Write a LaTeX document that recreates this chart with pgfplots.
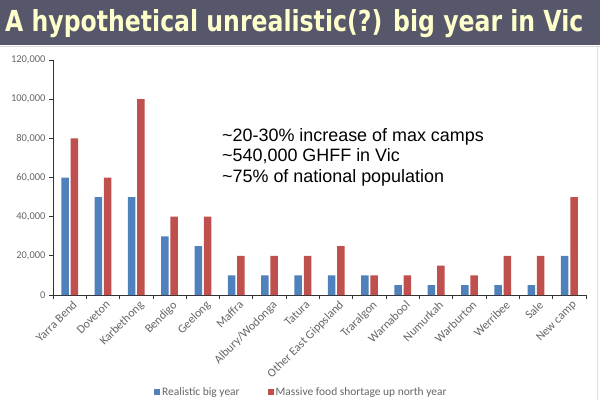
\documentclass[border=0pt]{standalone}
\usepackage{pgfplots}
\pgfplotsset{compat=1.18}
\usepackage{fontspec}
\setmainfont{Carlito}
\newfontfamily\titlefont{DejaVu Sans}
\newfontfamily\arialfont{Liberation Sans}
\definecolor{hdr}{HTML}{56576A}
\definecolor{ttl}{HTML}{FFFFCC}
\definecolor{cblue}{HTML}{4F81BD}
\definecolor{cred}{HTML}{C0504D}
\definecolor{lbl}{HTML}{666666}
\begin{document}
\begin{tikzpicture}[x=1bp,y=1bp]
\fill[white] (0,0) rectangle (600,400);
\fill[hdr] (0,355) rectangle (600,400);
\draw[gray!30,line width=1bp] (0,353.5) -- (600,353.5);
\draw[gray!25,line width=1bp] (597.5,0) -- (597.5,353);
\node[anchor=base west,text=ttl,inner sep=0pt] at (5,368.5) {\resizebox{578bp}{22bp}{\titlefont\bfseries A hypothetical unrealistic(?) big year in Vic}};
\begin{axis}[
  at={(53bp,105bp)}, anchor=south west,
  scale only axis, width=533bp, height=235bp,
  ybar=1.8bp, bar width=7.5bp,
  xmin=-0.5, xmax=15.5, ymin=0, ymax=120000,
  axis x line*=bottom, axis y line*=left,
  axis line style={-, black!80, line width=0.8pt},
  xtick={0,...,15},
  xticklabels={Yarra Bend,Doveton,Karbethong,Bendigo,Geelong,Maffra,Albury/Wodonga,Tatura,Other East Gippsland,Traralgon,Warnabool,Numurkah,Warburton,Werribee,Sale,New camp},
  x tick label style={rotate=45, anchor=north east, font=\fontsize{12}{13}\selectfont, text=lbl, inner sep=1pt, xshift=2bp, yshift=-1bp},
  major x tick style={draw=none},
  minor xtick={-0.5,0.5,...,15.5},
  minor x tick style={black!80, line width=0.8pt},
  minor tick length=4bp,
  ytick={0,20000,...,120000},
  major tick length=4bp,
  tick align=outside,
  y tick style={black!80, line width=0.8pt},
  y tick label style={font=\fontsize{10.5}{12}\selectfont, text=lbl},
  /pgf/number format/assume math mode=true,
  scaled y ticks=false,
  yticklabel style={/pgf/number format/.cd, fixed, 1000 sep={,}},
  legend style={at={(0.466,-0.413)}, anchor=center, draw=none, legend columns=2,
    font=\fontsize{11.5}{13}\selectfont, text=lbl,
    /tikz/every even column/.append style={column sep=26bp}},
  legend image code/.code={\fill[#1] (0bp,-3bp) rectangle (6bp,3bp);},
  clip=false,
]
\addplot[fill=cblue, draw=none] coordinates {(0,60000) (1,50000) (2,50000) (3,30000) (4,25000) (5,10000) (6,10000) (7,10000) (8,10000) (9,10000) (10,5000) (11,5000) (12,5000) (13,5000) (14,5000) (15,20000)};
\addplot[fill=cred, draw=none] coordinates {(0,80000) (1,60000) (2,100000) (3,40000) (4,40000) (5,20000) (6,20000) (7,20000) (8,25000) (9,10000) (10,10000) (11,15000) (12,10000) (13,20000) (14,20000) (15,50000)};
\legend{Realistic big year, Massive food shortage up north year}
\end{axis}
\node[anchor=north west, align=left, inner sep=0pt, font=\arialfont\fontsize{18}{20.5}\selectfont] at (222,272) {\textasciitilde 20-30\% increase of max camps\\\textasciitilde 540,000 GHFF in Vic\\\textasciitilde 75\% of national population};
\pgfresetboundingbox
\useasboundingbox (0,0) rectangle (600,400);
\end{tikzpicture}
\end{document}
